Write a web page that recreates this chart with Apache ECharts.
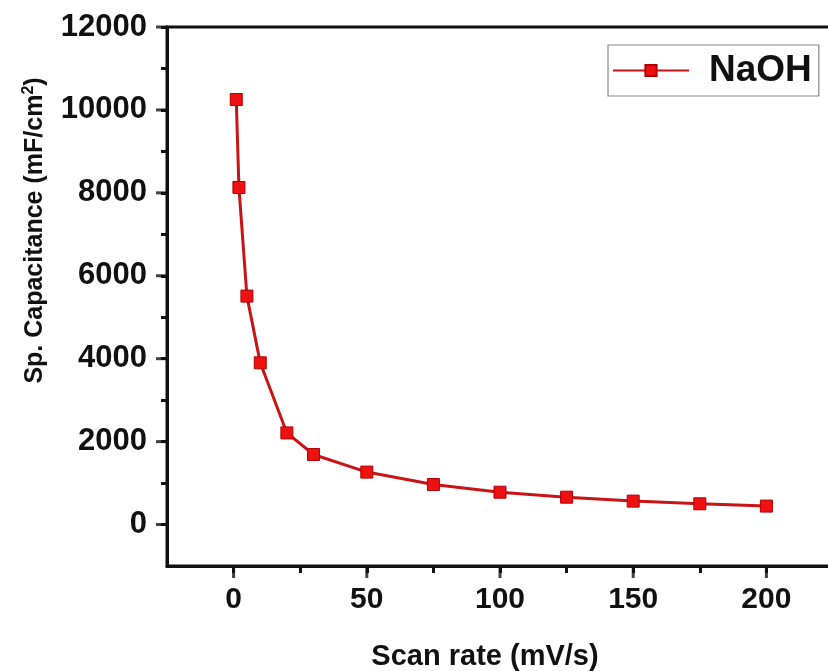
<!DOCTYPE html>
<html>
<head>
<meta charset="utf-8">
<script src="https://cdn.jsdelivr.net/npm/echarts@6/dist/echarts.min.js"></script>
<style>
  html, body { margin: 0; padding: 0; background: #fff; }
  #chart { width: 828px; height: 671px; }
</style>
</head>
<body>
<div id="chart"></div>
<script>
// Specific capacitance vs. scan rate in NaOH electrolyte
const scanRate = [1, 2, 5, 10, 20, 30, 50, 75, 100, 125, 150, 175, 200];
const capacitance = [10250, 8130, 5510, 3900, 2210, 1690, 1265, 965, 780, 660, 565, 500, 445];

const xMajorTicks = [0, 50, 100, 150, 200];
const yMajorTicks = [0, 2000, 4000, 6000, 8000, 10000, 12000];

const X_MIN = -25, X_MAX = 225, X_STEP = 25;
const Y_MIN = -1000, Y_MAX = 12000, Y_STEP = 1000;

const FONT = "'Liberation Sans', Arial, sans-serif";
const AXIS_COLOR = '#111';

const chart = echarts.init(document.getElementById('chart'), null, { renderer: 'canvas' });

chart.setOption({
  backgroundColor: '#fff',
  animation: false,
  grid: {
    left: 167, right: -5, top: 27, bottom: 105,
    containLabel: false, outerBoundsMode: 'none',
    show: true, borderColor: AXIS_COLOR, borderWidth: 3, backgroundColor: 'transparent'
  },
  legend: {
    left: 608, top: 45,
    padding: [7, 7, 7, 4],
    itemWidth: 76, itemHeight: 14, itemGap: 0,
    borderColor: '#888', borderWidth: 1.2, borderRadius: 0,
    textStyle: { fontFamily: FONT, fontWeight: 'bold', fontSize: 37, color: '#111', padding: [0, 0, 0, 15] },
    data: ['NaOH']
  },
  xAxis: {
    type: 'value', min: X_MIN, max: X_MAX, interval: X_STEP,
    position: 'bottom',
    splitLine: { show: false },
    name: 'Scan rate (mV/s)',
    nameLocation: 'middle',
    nameGap: 76,
    nameTextStyle: { fontFamily: FONT, fontWeight: 'bold', fontSize: 29, color: '#111', padding: [0, 30, 0, 0] },
    axisLine: { show: true, onZero: false, lineStyle: { color: AXIS_COLOR, width: 3 } },
    // short (minor) ticks every 25; the longer major ticks come from the tick series below
    axisTick: { show: true, length: 7, lineStyle: { color: AXIS_COLOR, width: 3 } },
    axisLabel: {
      margin: 19, fontFamily: FONT, fontWeight: 'bold', fontSize: 30, color: '#111',
      showMinLabel: false, showMaxLabel: false,
      formatter: v => (xMajorTicks.indexOf(v) >= 0 ? String(v) : '')
    }
  },
  yAxis: {
    type: 'value', min: Y_MIN, max: Y_MAX, interval: Y_STEP,
    position: 'left',
    splitLine: { show: false },
    name: 'Sp. Capacitance (mF/cm{sup|2})',
    nameLocation: 'middle',
    nameGap: 118,
    nameTextStyle: {
      fontFamily: FONT, fontWeight: 'bold', fontSize: 25, color: '#111',
      padding: [0, 0, 0, 132],
      rich: { sup: { fontFamily: FONT, fontWeight: 'bold', fontSize: 16, color: '#111', verticalAlign: 'top', padding: [0, 0, 12, 0] } }
    },
    axisLine: { show: true, onZero: false, lineStyle: { color: AXIS_COLOR, width: 3 } },
    axisTick: { show: true, length: 6, lineStyle: { color: AXIS_COLOR, width: 3 } },
    axisLabel: {
      margin: 20, fontFamily: FONT, fontWeight: 'bold', fontSize: 31, color: '#111',
      showMinLabel: false,
      formatter: v => (yMajorTicks.indexOf(v) >= 0 ? String(v) : '')
    }
  },
  series: [
    {
      name: 'NaOH',
      type: 'line',
      data: scanRate.map((x, i) => [x, capacitance[i]]),
      symbol: 'rect',
      symbolSize: 12,
      z: 5,
      lineStyle: { color: '#c81414', width: 3 },
      itemStyle: { color: '#ee1111', borderColor: '#b00000', borderWidth: 1 }
    },
    // longer major tick marks on the bottom axis
    {
      name: 'xMajorTick',
      type: 'scatter',
      silent: true,
      clip: false,
      z: 6,
      data: xMajorTicks.map(v => [v, Y_MIN]),
      symbol: 'rect',
      symbolSize: [3, 12],
      symbolOffset: [0, 6],
      itemStyle: { color: AXIS_COLOR }
    },
    // longer major tick marks on the left axis
    {
      name: 'yMajorTick',
      type: 'scatter',
      silent: true,
      clip: false,
      z: 6,
      data: yMajorTicks.map(v => [X_MIN, v]),
      symbol: 'rect',
      symbolSize: [11, 3],
      symbolOffset: [-5.5, 0],
      itemStyle: { color: AXIS_COLOR }
    }
  ]
});
</script>
</body>
</html>
